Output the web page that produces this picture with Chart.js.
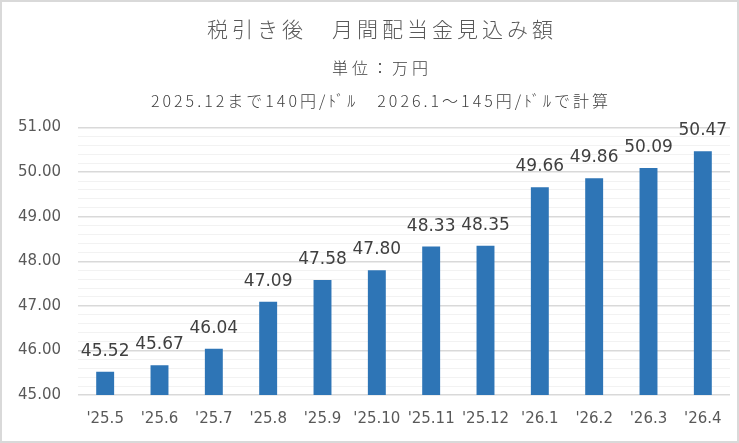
<!DOCTYPE html>
<html>
<head>
<meta charset="utf-8">
<script src="https://cdn.jsdelivr.net/npm/chart.js@4/dist/chart.umd.min.js"></script>
<style>
    html, body { margin: 0; padding: 0; background: #fff; }
    #wrap { width: 739px; height: 443px; box-sizing: border-box; border: 2px solid #d9d9d9; }
</style>
</head>
<body>
<div id="wrap"><canvas id="chart" width="735" height="439"></canvas></div>
<script>
const months = ["'25.5", "'25.6", "'25.7", "'25.8", "'25.9", "'25.10", "'25.11", "'25.12", "'26.1", "'26.2", "'26.3", "'26.4"];
const dividends = [45.52, 45.67, 46.04, 47.09, 47.58, 47.80, 48.33, 48.35, 49.66, 49.86, 50.09, 50.47];
const titleText = '税引き後　月間配当金見込み額';
const subText = ['単位：万円', '2025.12まで140円/ﾄﾞﾙ　2026.1～145円/ﾄﾞﾙで計算'];

const jpFont = '"Noto Sans CJK JP", "Noto Sans", sans-serif';
const numFont = '"DejaVu Sans", sans-serif';

// Excel style title block, wide letter spacing
const titleBlock = {
    id: 'titleBlock',
    afterDraw(chart) {
        const ctx = chart.ctx;
        const cx = 378;
        ctx.save();
        ctx.textAlign = 'center';
        ctx.textBaseline = 'middle';
        ctx.fillStyle = '#595959';
        ctx.letterSpacing = '4px';
        ctx.font = '300 21px ' + jpFont;
        ctx.fillText(titleText, cx + 2, 27);
        ctx.fillStyle = '#404040';
        ctx.letterSpacing = '4px';
        ctx.font = '300 16px ' + jpFont;
        ctx.fillText(subText[0], cx + 2, 66);
        ctx.letterSpacing = '3px';
        ctx.font = '300 16px ' + jpFont;
        ctx.fillText(subText[1], cx + 1, 99);
        ctx.letterSpacing = '0px';
        ctx.restore();
    }
};

// values drawn above each bar
const barLabels = {
    id: 'barLabels',
    afterDatasetsDraw(chart) {
        const ctx = chart.ctx;
        const meta = chart.getDatasetMeta(0);
        ctx.save();
        ctx.font = '17px ' + numFont;
        ctx.fillStyle = '#404040';
        ctx.textAlign = 'center';
        ctx.textBaseline = 'alphabetic';
        meta.data.forEach((bar, i) => {
            ctx.fillText(dividends[i].toFixed(2), bar.x, bar.y - 16);
        });
        ctx.restore();
    }
};

const chart = new Chart(document.getElementById('chart').getContext('2d'), {
    type: 'bar',
    data: {
        labels: months,
        datasets: [{
            data: dividends,
            backgroundColor: '#2e75b6',
            categoryPercentage: 1,
            barPercentage: 0.33
        }]
    },
    options: {
        responsive: false,
        animation: false,
        layout: { padding: { top: 125.5, left: 0, right: 7, bottom: 6 } },
        plugins: {
            legend: { display: false },
            tooltip: { enabled: false },
            title: { display: false }
        },
        scales: {
            x: {
                grid: { display: false, drawTicks: false },
                border: { display: false },
                ticks: {
                    color: '#595959',
                    font: { family: numFont, size: 15 },
                    padding: 15,
                    maxRotation: 0,
                    autoSkip: false
                },
                afterFit: s => { s.height = 40; }
            },
            y: {
                min: 45,
                max: 51,
                border: { display: false },
                ticks: {
                    stepSize: 0.2,
                    autoSkip: false,
                    color: '#595959',
                    font: { family: numFont, size: 15 },
                    padding: 17,
                    callback: function(value) {
                        if (Math.abs(value - Math.round(value)) < 1e-6) {
                            return value.toFixed(2);
                        }
                        return '';
                    }
                },
                grid: {
                    drawTicks: false,
                    color: c => Math.abs(c.tick.value - Math.round(c.tick.value)) < 1e-6 ? '#d9d9d9' : '#f2f2f2',
                    lineWidth: c => Math.abs(c.tick.value - Math.round(c.tick.value)) < 1e-6 ? 1.5 : 1
                },
                afterFit: s => { s.width = 76; }
            }
        }
    },
    plugins: [barLabels, titleBlock]
});
</script>
</body>
</html>
